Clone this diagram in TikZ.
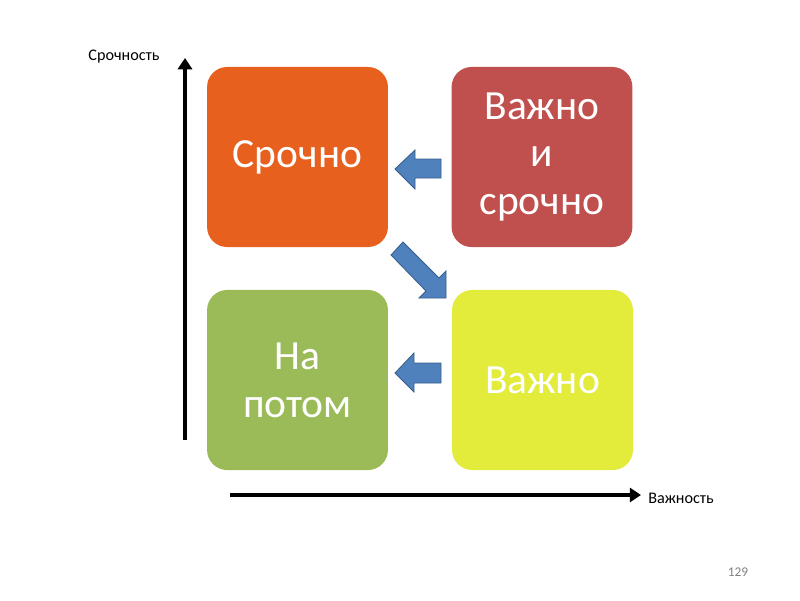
\documentclass[tikz,border=0pt]{standalone}
\usepackage{fontspec}
\setmainfont{Carlito}
\usetikzlibrary{arrows.meta}
\definecolor{urgentorange}{HTML}{E8601E}
\definecolor{bothred}{HTML}{C0504D}
\definecolor{latergreen}{HTML}{9BBB59}
\definecolor{importyellow}{HTML}{E3EC3A}
\definecolor{arrowblue}{HTML}{4F81BD}
\definecolor{arrowedge}{HTML}{385D8A}
\tikzset{
  box/.style={rounded corners=0.5cm,minimum width=4.52cm,minimum height=4.5cm,
    text=white,align=center,font=\fontsize{29.5}{34}\selectfont},
  axis/.style={line width=3.4pt,-{Triangle[length=8pt,width=10pt]}},
  blockarrow/.style={fill=arrowblue,draw=arrowedge,line width=0.6pt,line join=miter},
  axislabel/.style={font=\fontsize{11.5}{14}\selectfont}
}
\begin{document}
\begin{tikzpicture}[x=0.025cm,y=-0.025cm]
\useasboundingbox (0,0) rectangle (800,600);
% quadrants
\node[box,fill=urgentorange] (urgent) at (297.5,157) {Срочно};
\node[box,fill=bothred] (both) at (542,157) {Важно\\и\\срочно};
\node[box,fill=latergreen] (later) at (297.5,380) {На\\потом};
\node[box,fill=importyellow] (important) at (542.5,380) {Важно};
% axes
\coordinate (ybase) at (185,440);
\coordinate (ytip) at (185,58);
\coordinate (xbase) at (230,495);
\coordinate (xtip) at (641,495);
\draw[axis] (ybase) -- (ytip);
\draw[axis] (xbase) -- (xtip);
\node[axislabel] (ylabel) at (124,57) {Срочность};
\node[axislabel] (xlabel) at (681,498) {Важность};
% block arrows
\draw[blockarrow] (441,159) -- (415,159) -- (415,150) -- (395,169)
  -- (415,189) -- (415,178) -- (441,178) -- cycle;
\draw[blockarrow] (441,363) -- (414,363) -- (414,353) -- (395,373)
  -- (414,392) -- (414,383) -- (441,383) -- cycle;
\draw[blockarrow] (403,242) -- (439,278) -- (446,271) -- (446,298)
  -- (419,298) -- (426,291) -- (391,255) -- cycle;
% page number
\node[text=gray,font=\fontsize{9.5}{11}\selectfont] (pagenum) at (738,572) {129};
\end{tikzpicture}
\end{document}
